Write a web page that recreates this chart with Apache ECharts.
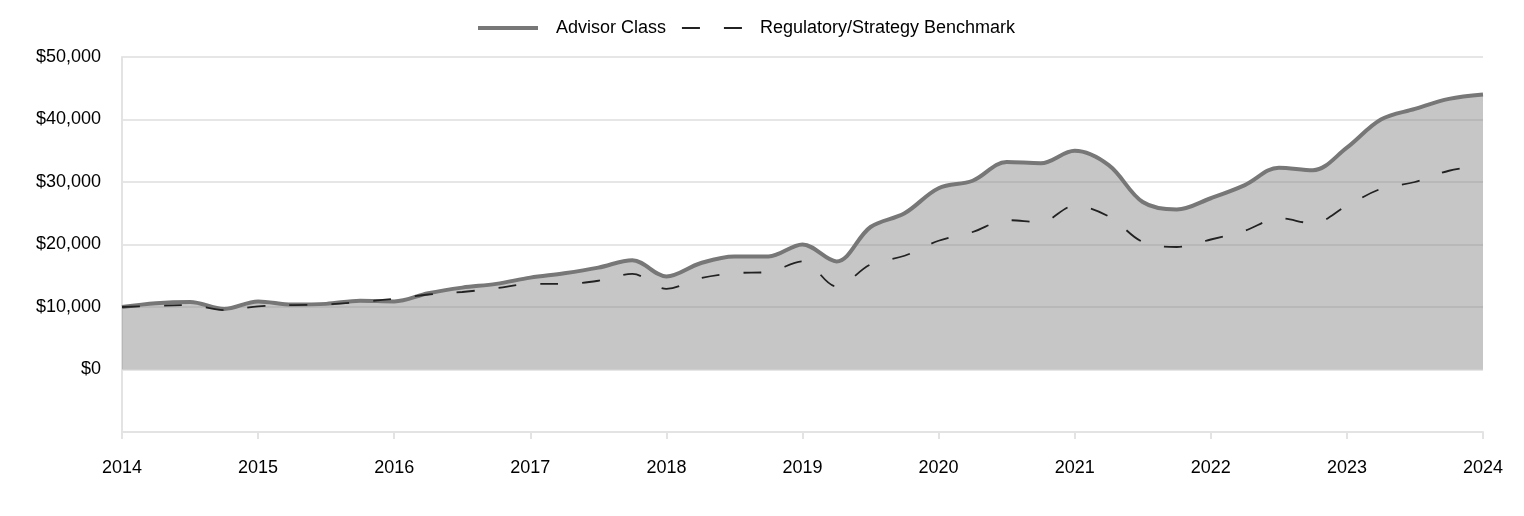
<!DOCTYPE html>
<html>
<head>
<meta charset="utf-8">
<script src="https://cdn.jsdelivr.net/npm/echarts@6/dist/echarts.min.js"></script>
<style>
html,body{margin:0;padding:0;background:#fff;}
#chart{width:1524px;height:516px;}
</style>
</head>
<body>
<div id="chart"></div>
<script>
var quarters = ['2014-Q1','2014-Q2','2014-Q3','2014-Q4','2015-Q1','2015-Q2','2015-Q3','2015-Q4',
 '2016-Q1','2016-Q2','2016-Q3','2016-Q4','2017-Q1','2017-Q2','2017-Q3','2017-Q4',
 '2018-Q1','2018-Q2','2018-Q3','2018-Q4','2019-Q1','2019-Q2','2019-Q3','2019-Q4',
 '2020-Q1','2020-Q2','2020-Q3','2020-Q4','2021-Q1','2021-Q2','2021-Q3','2021-Q4',
 '2022-Q1','2022-Q2','2022-Q3','2022-Q4','2023-Q1','2023-Q2','2023-Q3','2023-Q4','2024-Q1'];
var advisorClass = [10000, 10600, 10800, 9700, 10900, 10400, 10500, 11000, 10900, 12200,
 13100, 13700, 14700, 15400, 16300, 17500, 14900, 17000, 18100, 18100,
 20000, 17300, 22800, 25000, 29000, 30200, 33200, 33000, 35000, 32700,
 26800, 25600, 27400, 29500, 32300, 31900, 35500, 40000, 41700, 43300, 44000];
var benchmark = [10000, 10200, 10300, 9500, 10100, 10300, 10400, 10800, 11300, 12000,
 12400, 13000, 13700, 13700, 14200, 15300, 12900, 14600, 15400, 15600,
 17300, 13300, 16800, 18200, 20600, 22000, 23900, 23600, 26200, 24500,
 20400, 19600, 20800, 22200, 24200, 23400, 26200, 28900, 30000, 31800, 32600];
var seriesNames = ['Advisor Class', 'Regulatory/Strategy Benchmark'];

var chart = echarts.init(document.getElementById('chart'), null, {renderer: 'canvas'});
var font = 'Liberation Sans, Arial, sans-serif';
var advLine = {color: '#777777', width: 4};
var benchLine = {color: '#222222', width: 1.8, type: [18, 24]};
chart.setOption({
  animation: false,
  textStyle: {fontFamily: font},
  legend: {
    left: 476, top: 19, padding: 0,
    itemWidth: 60, itemHeight: 16, itemGap: 15,
    textStyle: {fontSize: 18, color: '#000', fontFamily: font, padding: [0, 0, 0, 13]},
    data: [
      {name: seriesNames[0], lineStyle: advLine, itemStyle: {opacity: 0}},
      {name: seriesNames[1], lineStyle: benchLine, itemStyle: {opacity: 0}}
    ]
  },
  grid: {left: 122, right: 41, top: 57, bottom: 84, containLabel: false},
  xAxis: {
    type: 'category',
    data: quarters,
    boundaryGap: false,
    axisLine: {show: true, onZero: false, lineStyle: {color: '#e3e3e3', width: 2}},
    axisTick: {show: true, length: 7, lineStyle: {color: '#e3e3e3', width: 2},
      interval: function (i) { return i % 4 === 0; }},
    axisLabel: {
      interval: function (i) { return i % 4 === 0; },
      formatter: function (v) { return v.slice(0, 4); },
      fontSize: 18, color: '#000', margin: 27, fontFamily: font
    },
    splitLine: {show: false}
  },
  yAxis: {
    type: 'value',
    min: -10000, max: 50000, interval: 10000,
    axisLine: {show: true, lineStyle: {color: '#e3e3e3', width: 2}},
    axisTick: {show: false},
    axisLabel: {
      fontSize: 18, color: '#000', margin: 21, fontFamily: font,
      formatter: function (v) { return v < 0 ? '' : '$' + v.toLocaleString('en-US'); }
    },
    splitLine: {show: true, lineStyle: {color: '#e6e6e6', width: 2}}
  },
  series: [
    {
      name: seriesNames[0],
      type: 'line',
      data: advisorClass,
      smooth: 0.35,
      symbol: 'none',
      lineStyle: advLine,
      itemStyle: {color: '#777777'},
      areaStyle: {color: 'rgba(128,128,128,0.45)', opacity: 1, origin: 0},
      z: 2
    },
    {
      name: seriesNames[1],
      type: 'line',
      data: benchmark,
      smooth: 0.35,
      symbol: 'none',
      lineStyle: benchLine,
      itemStyle: {color: '#222222'},
      z: 3
    }
  ]
});
</script>
</body>
</html>
